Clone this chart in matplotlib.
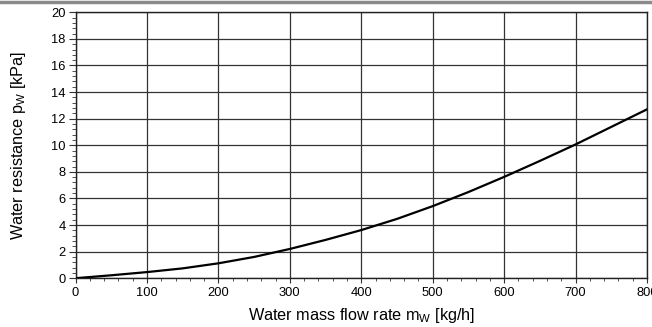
import numpy as np
import matplotlib.pyplot as plt
from matplotlib.lines import Line2D
from matplotlib.ticker import MultipleLocator

plt.rcParams['font.family'] = ['Liberation Sans', 'DejaVu Sans']

# water side pressure drop vs. mass flow
flow_rate = [0, 50, 100, 150, 200, 250, 300, 350, 400, 450, 500, 550, 600, 650, 700, 750, 800]
resistance = [0, 0.22, 0.46, 0.74, 1.12, 1.6, 2.2, 2.88, 3.62, 4.46, 5.42, 6.48, 7.62, 8.82, 10.06, 11.38, 12.7]

fig = plt.figure(figsize=(6.52, 3.27), dpi=100)
ax = fig.add_axes([0.1158, 0.1492, 0.9923 - 0.1158, 0.9624 - 0.1492])

# grey rule across the top of the page
fig.add_artist(Line2D([0, 1], [0.9945, 0.9945], color='#8a8a8a', lw=2.5,
                      transform=fig.transFigure))

ax.plot(flow_rate, resistance, color='black', lw=1.6, zorder=3)

ax.set_xlim(0, 800)
ax.set_ylim(0, 20)
ax.xaxis.set_major_locator(MultipleLocator(100))
ax.xaxis.set_minor_locator(MultipleLocator(20))
ax.yaxis.set_major_locator(MultipleLocator(2))
ax.yaxis.set_minor_locator(MultipleLocator(0.4))

ax.grid(True, which='major', color='#333333', lw=0.9)
ax.set_axisbelow(True)
for s in ax.spines.values():
    s.set_color('#222222')
    s.set_linewidth(1.0)

ax.tick_params(which='major', length=5, width=0.8, labelsize=9.3, pad=2, color='#333333')
ax.tick_params(which='minor', length=3, width=0.6, color='#333333')
ax.tick_params(axis='x', which='major', length=3.5, pad=3)
ax.tick_params(axis='x', which='minor', length=2)

ax.set_xlabel('Water mass flow rate m$_\\mathregular{W}$ [kg/h]', fontsize=11.7, labelpad=5)
ax.set_ylabel('Water resistance p$_\\mathregular{W}$ [kPa]', fontsize=11.7, labelpad=17)

fig.savefig('out.png', dpi=100)
